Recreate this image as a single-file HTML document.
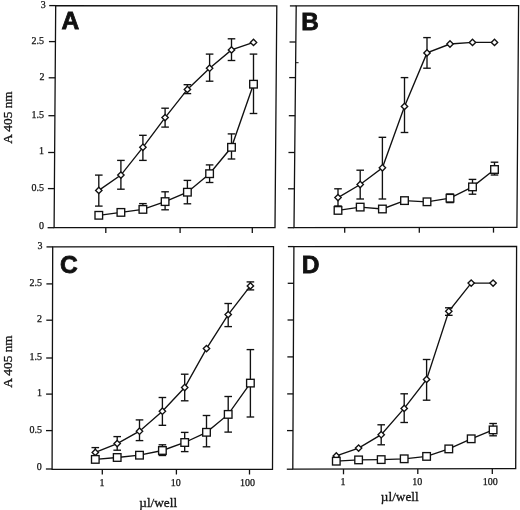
<!DOCTYPE html>
<html><head><meta charset="utf-8"><title>Figure</title>
<style>
html,body{margin:0;padding:0;background:#fff;}
body{width:520px;height:510px;overflow:hidden;}
svg{display:block;will-change:transform;transform:translateZ(0);}
svg line,svg path,svg polyline,svg rect{stroke:#111;}
text{fill:#111;}
.L{font-family:"Liberation Sans",sans-serif;font-weight:bold;font-size:25px;stroke:#111;stroke-width:1px;stroke-linejoin:miter;}
.t{font-family:"Liberation Serif",serif;font-size:10px;stroke:#111;stroke-width:0.25px;}
.a{font-family:"Liberation Serif",serif;font-size:13.3px;stroke:#111;stroke-width:0.3px;}
</style></head>
<body>
<svg width="520" height="510" viewBox="0 0 520 510">
<rect x="0" y="0" width="520" height="510" style="fill:#fff;stroke:none"/>
<path d="M55.7 5.6 L276.8 5.9 L275 227.7 L54.1 227.7 Z" fill="none" stroke-width="1.3" stroke-linejoin="miter"/>
<line x1="49.2" y1="5.6" x2="55.7" y2="5.6" stroke-width="1.3"/>
<line x1="48.94" y1="41.6" x2="55.44" y2="41.6" stroke-width="1.3"/>
<line x1="48.68" y1="77.8" x2="55.18" y2="77.8" stroke-width="1.3"/>
<line x1="48.41" y1="115.7" x2="54.91" y2="115.7" stroke-width="1.3"/>
<line x1="48.14" y1="152.5" x2="54.64" y2="152.5" stroke-width="1.3"/>
<line x1="47.88" y1="188.6" x2="54.38" y2="188.6" stroke-width="1.3"/>
<line x1="47.6" y1="227.7" x2="54.1" y2="227.7" stroke-width="1.3"/>
<line x1="105.8" y1="227.7" x2="105.8" y2="232.9" stroke-width="1.3"/>
<line x1="180.1" y1="227.7" x2="180.1" y2="232.9" stroke-width="1.3"/>
<line x1="252.3" y1="227.7" x2="252.3" y2="232.9" stroke-width="1.3"/>
<text class="L" x="61.5" y="28.8" style="font-size:24.6px;stroke-width:0.8px">A</text>
<path d="M296.2 5.9 L518.6 5.6 L516.9 227.4 L294 227.7 Z" fill="none" stroke-width="1.3" stroke-linejoin="miter"/>
<line x1="289.9" y1="5.9" x2="296.2" y2="5.9" stroke-width="1.3"/>
<line x1="289.54" y1="42" x2="295.84" y2="42" stroke-width="1.3"/>
<line x1="289.19" y1="77.6" x2="295.49" y2="77.6" stroke-width="1.3"/>
<line x1="288.81" y1="115.7" x2="295.11" y2="115.7" stroke-width="1.3"/>
<line x1="288.45" y1="152.5" x2="294.75" y2="152.5" stroke-width="1.3"/>
<line x1="288.09" y1="188.8" x2="294.39" y2="188.8" stroke-width="1.3"/>
<line x1="287.7" y1="227.7" x2="294" y2="227.7" stroke-width="1.3"/>
<line x1="344.7" y1="227.63" x2="344.7" y2="232.83" stroke-width="1.3"/>
<line x1="419.3" y1="227.53" x2="419.3" y2="232.73" stroke-width="1.3"/>
<line x1="493.5" y1="227.43" x2="493.5" y2="232.63" stroke-width="1.3"/>
<text class="L" x="301.3" y="29.8" style="font-size:24.3px;stroke-width:0.8px">B</text>
<path d="M52.7 246.9 L273.5 246.7 L272.5 469.3 L52.1 469.3 Z" fill="none" stroke-width="1.3" stroke-linejoin="miter"/>
<line x1="46.5" y1="246.9" x2="52.7" y2="246.9" stroke-width="1.3"/>
<line x1="46.4" y1="283.9" x2="52.6" y2="283.9" stroke-width="1.3"/>
<line x1="46.3" y1="320.2" x2="52.5" y2="320.2" stroke-width="1.3"/>
<line x1="46.2" y1="358" x2="52.4" y2="358" stroke-width="1.3"/>
<line x1="46.1" y1="394.1" x2="52.3" y2="394.1" stroke-width="1.3"/>
<line x1="46" y1="430.6" x2="52.2" y2="430.6" stroke-width="1.3"/>
<line x1="45.9" y1="469" x2="52.1" y2="469" stroke-width="1.3"/>
<line x1="102.3" y1="469.3" x2="102.3" y2="474.5" stroke-width="1.3"/>
<line x1="176.4" y1="469.3" x2="176.4" y2="474.5" stroke-width="1.3"/>
<line x1="249.5" y1="469.3" x2="249.5" y2="474.5" stroke-width="1.3"/>
<text class="L" x="60.1" y="273.15" style="font-size:24.5px;stroke-width:0.8px">C</text>
<path d="M293.9 246.6 L516.6 246.5 L515.7 468.7 L292.8 469.2 Z" fill="none" stroke-width="1.3" stroke-linejoin="miter"/>
<line x1="287.9" y1="246.6" x2="293.9" y2="246.6" stroke-width="1.3"/>
<line x1="287.72" y1="283.3" x2="293.72" y2="283.3" stroke-width="1.3"/>
<line x1="287.54" y1="320" x2="293.54" y2="320" stroke-width="1.3"/>
<line x1="287.35" y1="356.9" x2="293.35" y2="356.9" stroke-width="1.3"/>
<line x1="287.17" y1="393.9" x2="293.17" y2="393.9" stroke-width="1.3"/>
<line x1="286.99" y1="430.6" x2="292.99" y2="430.6" stroke-width="1.3"/>
<line x1="286.8" y1="469.2" x2="292.8" y2="469.2" stroke-width="1.3"/>
<line x1="343.5" y1="469.09" x2="343.5" y2="474.29" stroke-width="1.3"/>
<line x1="417.8" y1="468.92" x2="417.8" y2="474.12" stroke-width="1.3"/>
<line x1="492.3" y1="468.75" x2="492.3" y2="473.95" stroke-width="1.3"/>
<text class="L" x="301.7" y="272.7" style="font-size:24.5px;stroke-width:0.8px">D</text>
<line x1="296" y1="62.7" x2="298.6" y2="62.7" stroke-width="1.0"/>
<line x1="98.8" y1="175.1" x2="98.8" y2="206.1" stroke-width="1.35"/>
<line x1="95" y1="175.1" x2="102.6" y2="175.1" stroke-width="1.35"/>
<line x1="95" y1="206.1" x2="102.6" y2="206.1" stroke-width="1.35"/>
<line x1="120.9" y1="160.4" x2="120.9" y2="189.2" stroke-width="1.35"/>
<line x1="117.1" y1="160.4" x2="124.7" y2="160.4" stroke-width="1.35"/>
<line x1="117.1" y1="189.2" x2="124.7" y2="189.2" stroke-width="1.35"/>
<line x1="142.9" y1="135.3" x2="142.9" y2="160.4" stroke-width="1.35"/>
<line x1="139.1" y1="135.3" x2="146.7" y2="135.3" stroke-width="1.35"/>
<line x1="139.1" y1="160.4" x2="146.7" y2="160.4" stroke-width="1.35"/>
<line x1="165.1" y1="108.2" x2="165.1" y2="127.1" stroke-width="1.35"/>
<line x1="161.3" y1="108.2" x2="168.9" y2="108.2" stroke-width="1.35"/>
<line x1="161.3" y1="127.1" x2="168.9" y2="127.1" stroke-width="1.35"/>
<line x1="187.4" y1="84.7" x2="187.4" y2="93.6" stroke-width="1.35"/>
<line x1="183.6" y1="84.7" x2="191.2" y2="84.7" stroke-width="1.35"/>
<line x1="183.6" y1="93.6" x2="191.2" y2="93.6" stroke-width="1.35"/>
<line x1="209.6" y1="54.1" x2="209.6" y2="81.2" stroke-width="1.35"/>
<line x1="205.8" y1="54.1" x2="213.4" y2="54.1" stroke-width="1.35"/>
<line x1="205.8" y1="81.2" x2="213.4" y2="81.2" stroke-width="1.35"/>
<line x1="231.5" y1="38.8" x2="231.5" y2="60.5" stroke-width="1.35"/>
<line x1="227.7" y1="38.8" x2="235.3" y2="38.8" stroke-width="1.35"/>
<line x1="227.7" y1="60.5" x2="235.3" y2="60.5" stroke-width="1.35"/>
<line x1="142.9" y1="203.6" x2="142.9" y2="209.4" stroke-width="1.35"/>
<line x1="139.1" y1="203.6" x2="146.7" y2="203.6" stroke-width="1.35"/>
<line x1="165.1" y1="191.8" x2="165.1" y2="209.8" stroke-width="1.35"/>
<line x1="161.3" y1="191.8" x2="168.9" y2="191.8" stroke-width="1.35"/>
<line x1="161.3" y1="209.8" x2="168.9" y2="209.8" stroke-width="1.35"/>
<line x1="187.4" y1="180.4" x2="187.4" y2="203.8" stroke-width="1.35"/>
<line x1="183.6" y1="180.4" x2="191.2" y2="180.4" stroke-width="1.35"/>
<line x1="183.6" y1="203.8" x2="191.2" y2="203.8" stroke-width="1.35"/>
<line x1="209.6" y1="164.9" x2="209.6" y2="182.5" stroke-width="1.35"/>
<line x1="205.8" y1="164.9" x2="213.4" y2="164.9" stroke-width="1.35"/>
<line x1="205.8" y1="182.5" x2="213.4" y2="182.5" stroke-width="1.35"/>
<line x1="231.5" y1="133.9" x2="231.5" y2="159" stroke-width="1.35"/>
<line x1="227.7" y1="133.9" x2="235.3" y2="133.9" stroke-width="1.35"/>
<line x1="227.7" y1="159" x2="235.3" y2="159" stroke-width="1.35"/>
<line x1="253.5" y1="54.1" x2="253.5" y2="113.5" stroke-width="1.35"/>
<line x1="249.7" y1="54.1" x2="257.3" y2="54.1" stroke-width="1.35"/>
<line x1="249.7" y1="113.5" x2="257.3" y2="113.5" stroke-width="1.35"/>
<polyline points="98.8,190.4 120.9,175.1 142.9,147.3 165.1,117.6 187.4,89.4 209.6,68.2 231.5,49.9 253.5,42.4" fill="none" stroke-width="1.35"/>
<polyline points="98.8,215.3 120.9,212.4 142.9,209.4 165.1,201.6 187.4,192.2 209.6,173.7 231.5,147.3 253.5,84.2" fill="none" stroke-width="1.35"/>
<path d="M98.8 187.2 L102 190.4 L98.8 193.6 L95.6 190.4 Z" fill="#fff" stroke-width="1.35"/>
<path d="M120.9 171.9 L124.1 175.1 L120.9 178.3 L117.7 175.1 Z" fill="#fff" stroke-width="1.35"/>
<path d="M142.9 144.1 L146.1 147.3 L142.9 150.5 L139.7 147.3 Z" fill="#fff" stroke-width="1.35"/>
<path d="M165.1 114.4 L168.3 117.6 L165.1 120.8 L161.9 117.6 Z" fill="#fff" stroke-width="1.35"/>
<path d="M187.4 86.2 L190.6 89.4 L187.4 92.6 L184.2 89.4 Z" fill="#fff" stroke-width="1.35"/>
<path d="M209.6 65 L212.8 68.2 L209.6 71.4 L206.4 68.2 Z" fill="#fff" stroke-width="1.35"/>
<path d="M231.5 46.7 L234.7 49.9 L231.5 53.1 L228.3 49.9 Z" fill="#fff" stroke-width="1.35"/>
<path d="M253.5 39.2 L256.7 42.4 L253.5 45.6 L250.3 42.4 Z" fill="#fff" stroke-width="1.35"/>
<rect x="95" y="211.5" width="7.6" height="7.6" fill="#fff" stroke-width="1.35"/>
<rect x="117.1" y="208.6" width="7.6" height="7.6" fill="#fff" stroke-width="1.35"/>
<rect x="139.1" y="205.6" width="7.6" height="7.6" fill="#fff" stroke-width="1.35"/>
<rect x="161.3" y="197.8" width="7.6" height="7.6" fill="#fff" stroke-width="1.35"/>
<rect x="183.6" y="188.4" width="7.6" height="7.6" fill="#fff" stroke-width="1.35"/>
<rect x="205.8" y="169.9" width="7.6" height="7.6" fill="#fff" stroke-width="1.35"/>
<rect x="227.7" y="143.5" width="7.6" height="7.6" fill="#fff" stroke-width="1.35"/>
<rect x="249.7" y="80.4" width="7.6" height="7.6" fill="#fff" stroke-width="1.35"/>
<line x1="338" y1="188.8" x2="338" y2="206" stroke-width="1.35"/>
<line x1="334.2" y1="188.8" x2="341.8" y2="188.8" stroke-width="1.35"/>
<line x1="334.2" y1="206" x2="341.8" y2="206" stroke-width="1.35"/>
<line x1="360.2" y1="170.2" x2="360.2" y2="199" stroke-width="1.35"/>
<line x1="356.4" y1="170.2" x2="364" y2="170.2" stroke-width="1.35"/>
<line x1="356.4" y1="199" x2="364" y2="199" stroke-width="1.35"/>
<line x1="382.4" y1="137.3" x2="382.4" y2="199" stroke-width="1.35"/>
<line x1="378.6" y1="137.3" x2="386.2" y2="137.3" stroke-width="1.35"/>
<line x1="378.6" y1="199" x2="386.2" y2="199" stroke-width="1.35"/>
<line x1="404.5" y1="77.6" x2="404.5" y2="132.5" stroke-width="1.35"/>
<line x1="400.7" y1="77.6" x2="408.3" y2="77.6" stroke-width="1.35"/>
<line x1="400.7" y1="132.5" x2="408.3" y2="132.5" stroke-width="1.35"/>
<line x1="427" y1="37.6" x2="427" y2="68.2" stroke-width="1.35"/>
<line x1="423.2" y1="37.6" x2="430.8" y2="37.6" stroke-width="1.35"/>
<line x1="423.2" y1="68.2" x2="430.8" y2="68.2" stroke-width="1.35"/>
<line x1="450" y1="194" x2="450" y2="202.6" stroke-width="1.35"/>
<line x1="446.2" y1="194" x2="453.8" y2="194" stroke-width="1.35"/>
<line x1="446.2" y1="202.6" x2="453.8" y2="202.6" stroke-width="1.35"/>
<line x1="472.5" y1="179.4" x2="472.5" y2="194.2" stroke-width="1.35"/>
<line x1="468.7" y1="179.4" x2="476.3" y2="179.4" stroke-width="1.35"/>
<line x1="468.7" y1="194.2" x2="476.3" y2="194.2" stroke-width="1.35"/>
<line x1="494.5" y1="162.2" x2="494.5" y2="175" stroke-width="1.35"/>
<line x1="490.7" y1="162.2" x2="498.3" y2="162.2" stroke-width="1.35"/>
<line x1="490.7" y1="175" x2="498.3" y2="175" stroke-width="1.35"/>
<polyline points="338,197.6 360.2,184.5 382.4,167.8 404.5,106.4 427,52.9 450,44 472.5,42.4 494.5,42.4" fill="none" stroke-width="1.35"/>
<polyline points="338,210.4 360.2,207.1 382.4,209 404.5,200.6 427,201.8 450,198.2 472.5,186.9 494.5,169.5" fill="none" stroke-width="1.35"/>
<path d="M338 194.4 L341.2 197.6 L338 200.8 L334.8 197.6 Z" fill="#fff" stroke-width="1.35"/>
<path d="M360.2 181.3 L363.4 184.5 L360.2 187.7 L357 184.5 Z" fill="#fff" stroke-width="1.35"/>
<path d="M382.4 164.6 L385.6 167.8 L382.4 171 L379.2 167.8 Z" fill="#fff" stroke-width="1.35"/>
<path d="M404.5 103.2 L407.7 106.4 L404.5 109.6 L401.3 106.4 Z" fill="#fff" stroke-width="1.35"/>
<path d="M427 49.7 L430.2 52.9 L427 56.1 L423.8 52.9 Z" fill="#fff" stroke-width="1.35"/>
<path d="M450 40.8 L453.2 44 L450 47.2 L446.8 44 Z" fill="#fff" stroke-width="1.35"/>
<path d="M472.5 39.2 L475.7 42.4 L472.5 45.6 L469.3 42.4 Z" fill="#fff" stroke-width="1.35"/>
<path d="M494.5 39.2 L497.7 42.4 L494.5 45.6 L491.3 42.4 Z" fill="#fff" stroke-width="1.35"/>
<rect x="334.2" y="206.6" width="7.6" height="7.6" fill="#fff" stroke-width="1.35"/>
<rect x="356.4" y="203.3" width="7.6" height="7.6" fill="#fff" stroke-width="1.35"/>
<rect x="378.6" y="205.2" width="7.6" height="7.6" fill="#fff" stroke-width="1.35"/>
<rect x="400.7" y="196.8" width="7.6" height="7.6" fill="#fff" stroke-width="1.35"/>
<rect x="423.2" y="198" width="7.6" height="7.6" fill="#fff" stroke-width="1.35"/>
<rect x="446.2" y="194.4" width="7.6" height="7.6" fill="#fff" stroke-width="1.35"/>
<rect x="468.7" y="183.1" width="7.6" height="7.6" fill="#fff" stroke-width="1.35"/>
<rect x="490.7" y="165.7" width="7.6" height="7.6" fill="#fff" stroke-width="1.35"/>
<line x1="95.3" y1="447.6" x2="95.3" y2="457" stroke-width="1.35"/>
<line x1="91.5" y1="447.6" x2="99.1" y2="447.6" stroke-width="1.35"/>
<line x1="91.5" y1="457" x2="99.1" y2="457" stroke-width="1.35"/>
<line x1="117.2" y1="436.6" x2="117.2" y2="450.2" stroke-width="1.35"/>
<line x1="113.4" y1="436.6" x2="121" y2="436.6" stroke-width="1.35"/>
<line x1="113.4" y1="450.2" x2="121" y2="450.2" stroke-width="1.35"/>
<line x1="139.5" y1="419.9" x2="139.5" y2="440.6" stroke-width="1.35"/>
<line x1="135.7" y1="419.9" x2="143.3" y2="419.9" stroke-width="1.35"/>
<line x1="135.7" y1="440.6" x2="143.3" y2="440.6" stroke-width="1.35"/>
<line x1="162.4" y1="397.5" x2="162.4" y2="425.3" stroke-width="1.35"/>
<line x1="158.6" y1="397.5" x2="166.2" y2="397.5" stroke-width="1.35"/>
<line x1="158.6" y1="425.3" x2="166.2" y2="425.3" stroke-width="1.35"/>
<line x1="184.7" y1="374.2" x2="184.7" y2="400.8" stroke-width="1.35"/>
<line x1="180.9" y1="374.2" x2="188.5" y2="374.2" stroke-width="1.35"/>
<line x1="180.9" y1="400.8" x2="188.5" y2="400.8" stroke-width="1.35"/>
<line x1="228.2" y1="303.5" x2="228.2" y2="326.6" stroke-width="1.35"/>
<line x1="224.4" y1="303.5" x2="232" y2="303.5" stroke-width="1.35"/>
<line x1="224.4" y1="326.6" x2="232" y2="326.6" stroke-width="1.35"/>
<line x1="250.4" y1="281.9" x2="250.4" y2="289.9" stroke-width="1.35"/>
<line x1="246.6" y1="281.9" x2="254.2" y2="281.9" stroke-width="1.35"/>
<line x1="246.6" y1="289.9" x2="254.2" y2="289.9" stroke-width="1.35"/>
<line x1="162.4" y1="444.8" x2="162.4" y2="455.5" stroke-width="1.35"/>
<line x1="158.6" y1="444.8" x2="166.2" y2="444.8" stroke-width="1.35"/>
<line x1="158.6" y1="455.5" x2="166.2" y2="455.5" stroke-width="1.35"/>
<line x1="184.7" y1="432.4" x2="184.7" y2="451.6" stroke-width="1.35"/>
<line x1="180.9" y1="432.4" x2="188.5" y2="432.4" stroke-width="1.35"/>
<line x1="180.9" y1="451.6" x2="188.5" y2="451.6" stroke-width="1.35"/>
<line x1="206.5" y1="415.5" x2="206.5" y2="446.8" stroke-width="1.35"/>
<line x1="202.7" y1="415.5" x2="210.3" y2="415.5" stroke-width="1.35"/>
<line x1="202.7" y1="446.8" x2="210.3" y2="446.8" stroke-width="1.35"/>
<line x1="228.2" y1="396.5" x2="228.2" y2="432.1" stroke-width="1.35"/>
<line x1="224.4" y1="396.5" x2="232" y2="396.5" stroke-width="1.35"/>
<line x1="224.4" y1="432.1" x2="232" y2="432.1" stroke-width="1.35"/>
<line x1="250.4" y1="349.6" x2="250.4" y2="417" stroke-width="1.35"/>
<line x1="246.6" y1="349.6" x2="254.2" y2="349.6" stroke-width="1.35"/>
<line x1="246.6" y1="417" x2="254.2" y2="417" stroke-width="1.35"/>
<polyline points="95.3,452.4 117.2,443.6 139.5,431.2 162.4,411.2 184.7,387.5 206.5,348.6 228.2,314.6 250.4,285.9" fill="none" stroke-width="1.35"/>
<polyline points="95.3,459.4 117.2,457.5 139.5,455.2 162.4,450.5 184.7,442.5 206.5,432.3 228.2,414.4 250.4,383.1" fill="none" stroke-width="1.35"/>
<path d="M95.3 449.2 L98.5 452.4 L95.3 455.6 L92.1 452.4 Z" fill="#fff" stroke-width="1.35"/>
<path d="M117.2 440.4 L120.4 443.6 L117.2 446.8 L114 443.6 Z" fill="#fff" stroke-width="1.35"/>
<path d="M139.5 428 L142.7 431.2 L139.5 434.4 L136.3 431.2 Z" fill="#fff" stroke-width="1.35"/>
<path d="M162.4 408 L165.6 411.2 L162.4 414.4 L159.2 411.2 Z" fill="#fff" stroke-width="1.35"/>
<path d="M184.7 384.3 L187.9 387.5 L184.7 390.7 L181.5 387.5 Z" fill="#fff" stroke-width="1.35"/>
<path d="M206.5 345.4 L209.7 348.6 L206.5 351.8 L203.3 348.6 Z" fill="#fff" stroke-width="1.35"/>
<path d="M228.2 311.4 L231.4 314.6 L228.2 317.8 L225 314.6 Z" fill="#fff" stroke-width="1.35"/>
<path d="M250.4 282.7 L253.6 285.9 L250.4 289.1 L247.2 285.9 Z" fill="#fff" stroke-width="1.35"/>
<rect x="91.5" y="455.6" width="7.6" height="7.6" fill="#fff" stroke-width="1.35"/>
<rect x="113.4" y="453.7" width="7.6" height="7.6" fill="#fff" stroke-width="1.35"/>
<rect x="135.7" y="451.4" width="7.6" height="7.6" fill="#fff" stroke-width="1.35"/>
<rect x="158.6" y="446.7" width="7.6" height="7.6" fill="#fff" stroke-width="1.35"/>
<rect x="180.9" y="438.7" width="7.6" height="7.6" fill="#fff" stroke-width="1.35"/>
<rect x="202.7" y="428.5" width="7.6" height="7.6" fill="#fff" stroke-width="1.35"/>
<rect x="224.4" y="410.6" width="7.6" height="7.6" fill="#fff" stroke-width="1.35"/>
<rect x="246.6" y="379.3" width="7.6" height="7.6" fill="#fff" stroke-width="1.35"/>
<line x1="381.2" y1="424.8" x2="381.2" y2="444.8" stroke-width="1.35"/>
<line x1="377.4" y1="424.8" x2="385" y2="424.8" stroke-width="1.35"/>
<line x1="377.4" y1="444.8" x2="385" y2="444.8" stroke-width="1.35"/>
<line x1="404.2" y1="393.8" x2="404.2" y2="422.5" stroke-width="1.35"/>
<line x1="400.4" y1="393.8" x2="408" y2="393.8" stroke-width="1.35"/>
<line x1="400.4" y1="422.5" x2="408" y2="422.5" stroke-width="1.35"/>
<line x1="426.6" y1="359.5" x2="426.6" y2="400.2" stroke-width="1.35"/>
<line x1="422.8" y1="359.5" x2="430.4" y2="359.5" stroke-width="1.35"/>
<line x1="422.8" y1="400.2" x2="430.4" y2="400.2" stroke-width="1.35"/>
<line x1="448.8" y1="307.8" x2="448.8" y2="315.3" stroke-width="1.35"/>
<line x1="445" y1="307.8" x2="452.6" y2="307.8" stroke-width="1.35"/>
<line x1="445" y1="315.3" x2="452.6" y2="315.3" stroke-width="1.35"/>
<line x1="493.1" y1="423.5" x2="493.1" y2="435.8" stroke-width="1.35"/>
<line x1="489.3" y1="423.5" x2="496.9" y2="423.5" stroke-width="1.35"/>
<line x1="489.3" y1="435.8" x2="496.9" y2="435.8" stroke-width="1.35"/>
<polyline points="336.3,455.9 358.6,448.1 381.2,434.7 404.2,408.4 426.6,379.4 448.8,311.3 471.2,283.1 493.1,283.1" fill="none" stroke-width="1.35"/>
<polyline points="336.3,461.2 358.6,459.9 381.2,459.6 404.2,458.8 426.6,456.4 448.8,448.9 471.2,438.8 493.1,429.9" fill="none" stroke-width="1.35"/>
<path d="M336.3 452.7 L339.5 455.9 L336.3 459.1 L333.1 455.9 Z" fill="#fff" stroke-width="1.35"/>
<path d="M358.6 444.9 L361.8 448.1 L358.6 451.3 L355.4 448.1 Z" fill="#fff" stroke-width="1.35"/>
<path d="M381.2 431.5 L384.4 434.7 L381.2 437.9 L378 434.7 Z" fill="#fff" stroke-width="1.35"/>
<path d="M404.2 405.2 L407.4 408.4 L404.2 411.6 L401 408.4 Z" fill="#fff" stroke-width="1.35"/>
<path d="M426.6 376.2 L429.8 379.4 L426.6 382.6 L423.4 379.4 Z" fill="#fff" stroke-width="1.35"/>
<path d="M448.8 308.1 L452 311.3 L448.8 314.5 L445.6 311.3 Z" fill="#fff" stroke-width="1.35"/>
<path d="M471.2 279.9 L474.4 283.1 L471.2 286.3 L468 283.1 Z" fill="#fff" stroke-width="1.35"/>
<path d="M493.1 279.9 L496.3 283.1 L493.1 286.3 L489.9 283.1 Z" fill="#fff" stroke-width="1.35"/>
<rect x="332.5" y="457.4" width="7.6" height="7.6" fill="#fff" stroke-width="1.35"/>
<rect x="354.8" y="456.1" width="7.6" height="7.6" fill="#fff" stroke-width="1.35"/>
<rect x="377.4" y="455.8" width="7.6" height="7.6" fill="#fff" stroke-width="1.35"/>
<rect x="400.4" y="455" width="7.6" height="7.6" fill="#fff" stroke-width="1.35"/>
<rect x="422.8" y="452.6" width="7.6" height="7.6" fill="#fff" stroke-width="1.35"/>
<rect x="445" y="445.1" width="7.6" height="7.6" fill="#fff" stroke-width="1.35"/>
<rect x="467.4" y="435" width="7.6" height="7.6" fill="#fff" stroke-width="1.35"/>
<rect x="489.3" y="426.1" width="7.6" height="7.6" fill="#fff" stroke-width="1.35"/>
<text class="t" x="45.7" y="7.5" text-anchor="end">3</text>
<text class="t" x="44.1" y="43.5" text-anchor="end">2.5</text>
<text class="t" x="44.6" y="79.7" text-anchor="end">2</text>
<text class="t" x="44.1" y="117.6" text-anchor="end">1.5</text>
<text class="t" x="44.1" y="154.4" text-anchor="end">1</text>
<text class="t" x="44.1" y="190.5" text-anchor="end">0.5</text>
<text class="t" x="44.1" y="228.6" text-anchor="end">0</text>
<text class="t" x="42.6" y="248.8" text-anchor="end">3</text>
<text class="t" x="42" y="285.8" text-anchor="end">2.5</text>
<text class="t" x="42" y="322.1" text-anchor="end">2</text>
<text class="t" x="42" y="359.9" text-anchor="end">1.5</text>
<text class="t" x="42" y="396" text-anchor="end">1</text>
<text class="t" x="42" y="432.5" text-anchor="end">0.5</text>
<text class="t" x="41.8" y="470.4" text-anchor="end">0</text>
<text class="t" x="101.9" y="485.7" text-anchor="middle">1</text>
<text class="t" x="175.8" y="485.7" text-anchor="middle">10</text>
<text class="t" x="247.5" y="485.7" text-anchor="middle">100</text>
<text class="t" x="343.1" y="485.1" text-anchor="middle">1</text>
<text class="t" x="417.2" y="485.1" text-anchor="middle">10</text>
<text class="t" x="490.3" y="485.1" text-anchor="middle">100</text>
<text class="a" x="158.2" y="506.5" text-anchor="middle">µl/well</text>
<text class="a" x="399.8" y="500.6" text-anchor="middle">µl/well</text>
<text class="a" transform="translate(12.3 117.6) rotate(-90)" x="0" y="0" text-anchor="middle">A 405 nm</text>
<text class="a" transform="translate(11.5 361.6) rotate(-90)" x="0" y="0" text-anchor="middle">A 405 nm</text>
</svg>
</body></html>
